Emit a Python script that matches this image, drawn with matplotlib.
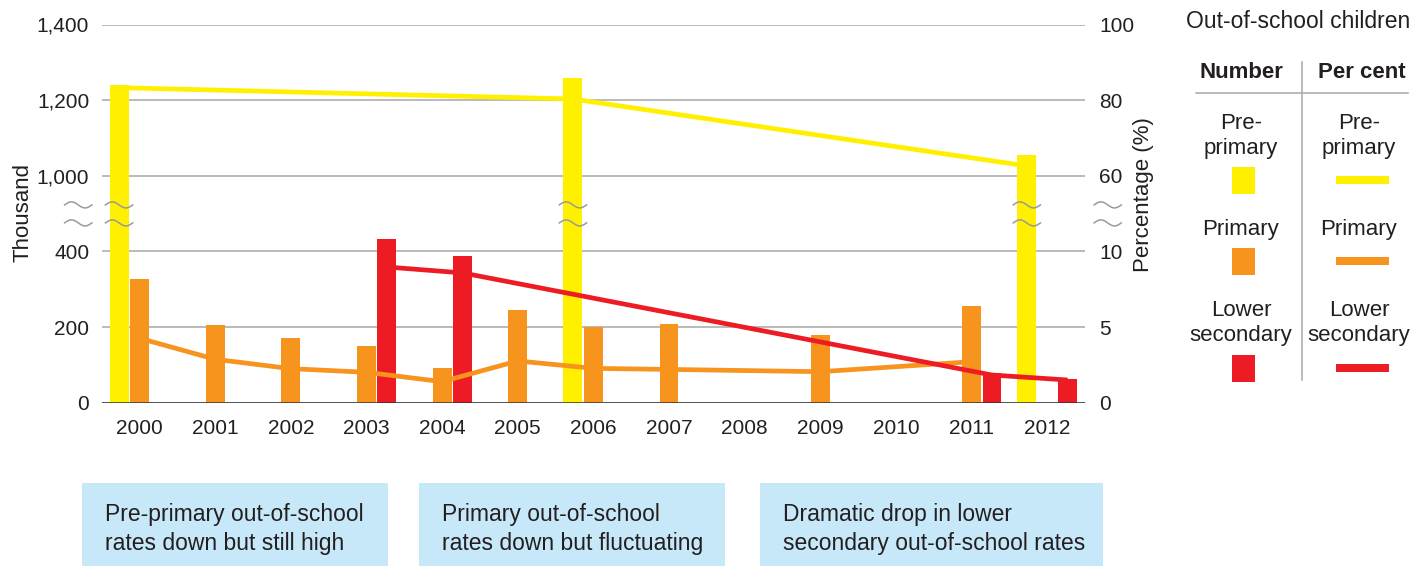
import numpy as np
import matplotlib
matplotlib.use("Agg")
import matplotlib.pyplot as plt
from matplotlib.patches import Rectangle

# data
years = ["2000", "2001", "2002", "2003", "2004", "2005", "2006",
         "2007", "2008", "2009", "2010", "2011", "2012"]

pre_years = ["2000", "2006", "2012"]
pre_num = [1240, 1259, 1055]          # thousand
pre_pct = [83.3, 80.3, 62.6]          # per cent

prim_years = ["2000", "2001", "2002", "2003", "2004", "2005", "2006",
              "2007", "2009", "2011"]
prim_num = [327, 206, 172, 150, 92, 245, 200, 208, 179, 256]
prim_pct = [4.26, 2.87, 2.25, 2.01, 1.39, 2.76, 2.27, 2.2, 2.05, 2.71]

lsec_years = ["2003", "2004", "2011", "2012"]
lsec_num = [433, 388, 78, 63]
lsec_pct = [8.97, 8.58, 1.83, 1.5]

num_ticks = [0, 200, 400, 1000, 1200, 1400]
pct_ticks = [0, 5, 10, 60, 80, 100]

YELLOW = "#FFF000"
ORANGE = "#F7941D"
RED = "#ED1C24"
TXT = "#231F20"
GRID = "#A7A7A7"
BOXC = "#C7E8F8"

plt.rcParams['font.family'] = ['Liberation Sans', 'DejaVu Sans']
plt.rcParams['font.size'] = 15
plt.rcParams['text.color'] = TXT


# broken axis: 0-500 and 1000+ linear, squeezed in between
def num_fwd(v):
    v = np.asarray(v, float)
    return np.where(v <= 500, v / 200,
                    np.where(v < 1000, 2.5 + (v - 500) / 1000, 3 + (v - 1000) / 200))


def num_inv(y):
    y = np.asarray(y, float)
    return np.where(y <= 2.5, y * 200,
                    np.where(y < 3, 500 + (y - 2.5) * 1000, 1000 + (y - 3) * 200))


def pct_fwd(p):
    p = np.asarray(p, float)
    return np.where(p <= 12.5, p / 5,
                    np.where(p < 60, 2.5 + (p - 12.5) / 95, 3 + (p - 60) / 20))


def pct_inv(y):
    y = np.asarray(y, float)
    return np.where(y <= 2.5, y * 5,
                    np.where(y < 3, 12.5 + (y - 2.5) * 95, 60 + (y - 3) * 20))


W, H = 1414, 566
fig = plt.figure(figsize=(W / 100, H / 100), dpi=100)
ax = fig.add_axes([101.7 / W, 1 - 402.7 / H, (1085 - 101.7) / W, (402.7 - 24.5) / H])
ax2 = ax.twinx()

ax.set_yscale('function', functions=(num_fwd, num_inv))
ax2.set_yscale('function', functions=(pct_fwd, pct_inv))
ax.set_ylim(0, 1400)
ax2.set_ylim(0, 100)
ax.set_xlim(-0.5, len(years) - 0.5)

pos = {y: i for i, y in enumerate(years)}
bw = 0.25
off = 0.27

ax.bar([pos[y] - off for y in pre_years], pre_num, bw, color=YELLOW, zorder=2)
ax.bar([pos[y] for y in prim_years], prim_num, bw, color=ORANGE, zorder=2)
ax.bar([pos[y] + off for y in lsec_years], lsec_num, bw, color=RED, zorder=2)

ax2.plot([pos[y] for y in prim_years], prim_pct, color=ORANGE, lw=3.4,
         solid_capstyle='butt', zorder=3)
ax2.plot([pos[y] + off for y in lsec_years], lsec_pct, color=RED, lw=3.4,
         solid_capstyle='butt', zorder=4)
ax2.plot([pos[y] - off for y in pre_years], pre_pct, color=YELLOW, lw=3.4,
         solid_capstyle='butt', zorder=5)

# axes styling
ax.set_yticks(num_ticks)
ax.set_yticklabels(["{:,}".format(t) for t in num_ticks])
ax2.set_yticks(pct_ticks)
ax2.set_yticklabels([str(t) for t in pct_ticks])
ax.set_xticks(range(len(years)))
ax.set_xticklabels(years)
ax.tick_params(axis='both', length=0, labelsize=15, colors=TXT)
ax.tick_params(axis='y', pad=9)
ax.tick_params(axis='x', pad=12)
ax2.tick_params(axis='y', length=0, labelsize=15, colors=TXT, pad=10)
ax.yaxis.set_minor_locator(matplotlib.ticker.NullLocator())
ax2.yaxis.set_minor_locator(matplotlib.ticker.NullLocator())
for a in (ax, ax2):
    for s in a.spines.values():
        s.set_visible(False)
ax.grid(axis='y', color=GRID, lw=1.1, zorder=0)
ax.set_axisbelow(True)
ax.axhline(0, color="#333333", lw=1.8, zorder=6)

# break marks
tx = ax2.get_xaxis_transform()
t = np.linspace(0, 1, 40)
wave_w = 0.36
for yb in (0.4754, 0.523):
    centres = [pos[y] - off for y in pre_years] + [-0.81, len(years) - 0.5 + 0.3]
    for c in centres:
        ax2.plot(c - wave_w / 2 + wave_w * t, yb + 0.008 * np.sin(2 * np.pi * t),
                 color="#9A9A9A", lw=1.1, transform=tx, clip_on=False, zorder=7)

# overlay in pixel coordinates for labels, legend and notes
lax = fig.add_axes([0, 0, 1, 1], zorder=-1)
lax.set_xlim(0, W)
lax.set_ylim(H, 0)
lax.axis('off')

lax.text(23, 213, "Thousand", rotation=90, ha='center', va='center', fontsize=16)
lax.text(1143, 195, "Percentage (%)", rotation=90, ha='center', va='center', fontsize=16)

# legend table
lax.text(1298, 22, "Out-of-school children", ha='center', va='center', fontsize=16.5)
lax.text(1241, 73, "Number", ha='center', va='center', fontsize=16, fontweight='bold')
lax.text(1362, 73, "Per cent", ha='center', va='center', fontsize=16, fontweight='bold')
lax.plot([1196, 1408], [92.7, 92.7], color=GRID, lw=1.1)
lax.plot([1302, 1302], [62, 380], color=GRID, lw=1.1)

leg_names = ["Pre-\nprimary", "Primary", "Lower\nsecondary"]
leg_cols = [YELLOW, ORANGE, RED]
leg_text_y = [136, 230, 323]
leg_patch_y = [167, 248, 355]
for name, col, ty, py in zip(leg_names, leg_cols, leg_text_y, leg_patch_y):
    lax.text(1241, ty, name, ha='center', va='center', fontsize=16, linespacing=1.3)
    lax.text(1359, ty, name, ha='center', va='center', fontsize=16, linespacing=1.3)
    lax.add_patch(Rectangle((1232, py), 23, 27, color=col, lw=0))
    lax.add_patch(Rectangle((1336, py + 9), 53, 8, color=col, lw=0))

# notes
notes = ["Pre-primary out-of-school\nrates down but still high",
         "Primary out-of-school\nrates down but fluctuating",
         "Dramatic drop in lower\nsecondary out-of-school rates"]
box_x = [(82, 388), (419, 725), (760, 1103)]
for txt, (x0, x1) in zip(notes, box_x):
    lax.add_patch(Rectangle((x0, 483), x1 - x0, 83, color=BOXC, lw=0))
    lax.text(x0 + 23, 529, txt, ha='left', va='center', fontsize=16.5,
             linespacing=1.3)

fig.savefig("out.png", dpi=100)
